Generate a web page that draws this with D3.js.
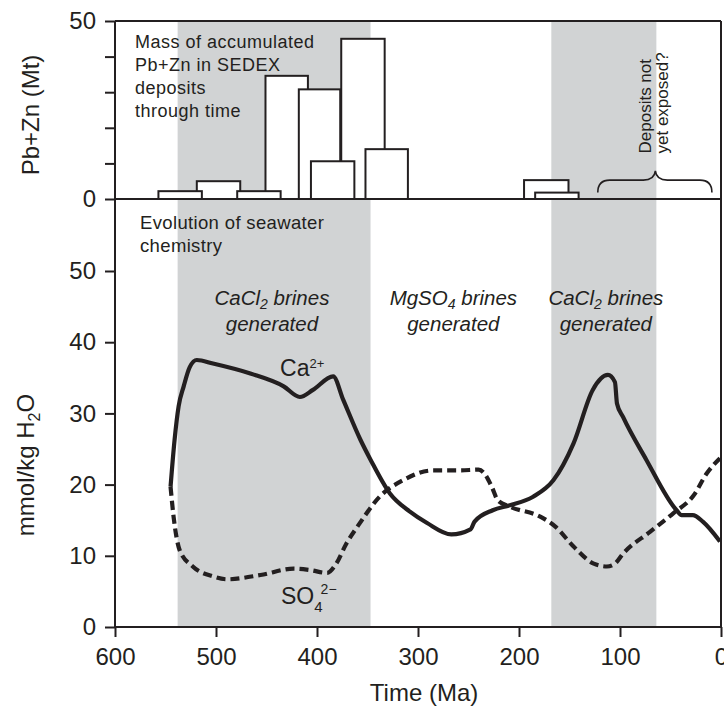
<!DOCTYPE html>
<html>
<head>
<meta charset="utf-8">
<script src="https://cdn.jsdelivr.net/npm/d3@7"></script>
<style>
  html, body { margin: 0; padding: 0; background: #fff; }
  svg text { font-family: "Liberation Sans", Arial, Helvetica, sans-serif; fill: #231f20; }
</style>
</head>
<body>
<svg id="chart" width="724" height="709"></svg>
<script>
// Time axis ticks (Ma) and value ticks
const timeTicks = [600, 500, 400, 300, 200, 100, 0];
const massTicks = [0, 10, 20, 30, 40, 50];
const massTickLabels = ["0", "", "", "", "", "50"];
const chemTicks = [0, 10, 20, 30, 40, 50];

// Intervals when CaCl2 brines formed (Ma)
const bandStart = [538, 168];
const bandEnd = [347, 64];

// SEDEX Pb+Zn histogram: age interval (Ma) and accumulated mass (Mt)
const barStart = [557, 519, 479, 451, 418, 406, 376, 352, 195, 184];
const barEnd   = [514, 476, 436, 409, 377, 363, 333, 310, 151, 141];
const barMass  = [2.2, 5.0, 2.2, 34.6, 30.8, 10.6, 45.0, 14.0, 5.3, 1.8];

// Seawater Ca2+ (mmol/kg H2O) through time
const caAge = [545, 541, 537, 532, 526, 519, 503, 466, 433, 417, 404, 384, 374, 357, 347, 328, 308, 291, 267, 248, 244, 226, 209, 186, 166, 146, 127, 112, 105, 103, 97, 74, 44, 39, 28, 18, 1];
const caConc = [19.7, 26.3, 31.0, 33.8, 36.5, 37.5, 37.0, 35.6, 33.8, 32.3, 33.3, 35.2, 31.9, 26.3, 23.5, 18.8, 16.2, 14.6, 13.0, 13.7, 14.8, 16.4, 17.1, 18.3, 20.6, 25.8, 33.3, 35.4, 34.4, 31.4, 29.5, 23.5, 16.4, 15.7, 15.7, 14.8, 12.0];

// Seawater SO4 2- (mmol/kg H2O) through time
const so4Age = [545, 542, 536, 523, 503, 489, 456, 423, 407, 390, 381, 371, 359, 338, 315, 285, 258, 240, 234, 227, 221, 209, 179, 164, 146, 126, 113, 105, 97, 70, 47, 27, 14, 1];
const so4Conc = [19.7, 15.5, 10.8, 8.5, 7.1, 6.7, 7.3, 8.2, 8.0, 7.6, 8.9, 11.7, 14.3, 18.3, 20.6, 22.0, 22.0, 22.1, 21.5, 19.7, 17.8, 16.9, 15.5, 14.1, 11.3, 8.9, 8.5, 8.9, 10.3, 13.4, 16.0, 18.5, 21.6, 23.7];

const ink = "#231f20";
const bandFill = "#d1d3d4";

const svg = d3.select("#chart");

const x = d3.scaleLinear().domain([600, 0]).range([115, 721]);
const yTop = d3.scaleLinear().domain([0, 50]).range([199, 21]);
const yBot = d3.scaleLinear().domain([0, 50]).range([627, 271]);

// Shaded intervals spanning both panels
svg.append("g").selectAll("rect")
  .data(bandStart.map((s, i) => ({ s, e: bandEnd[i] })))
  .join("rect")
  .attr("x", d => x(d.s))
  .attr("width", d => x(d.e) - x(d.s))
  .attr("y", yTop(50))
  .attr("height", yBot(0) - yTop(50))
  .attr("fill", bandFill);

// Histogram bars: taller ones first so shorter ones sit on top
const bars = barStart.map((s, i) => ({ s, e: barEnd[i], m: barMass[i] }))
  .sort((a, b) => b.m - a.m);
svg.append("g").selectAll("rect")
  .data(bars)
  .join("rect")
  .attr("x", d => x(d.s))
  .attr("width", d => x(d.e) - x(d.s))
  .attr("y", d => yTop(d.m))
  .attr("height", d => yTop(0) - yTop(d.m))
  .attr("fill", "#fff")
  .attr("stroke", ink)
  .attr("stroke-width", 2);

// Concentration curves
const line = d3.line()
  .x(d => x(d[0]))
  .y(d => yBot(d[1]))
  .curve(d3.curveMonotoneX);

svg.append("path")
  .datum(so4Age.map((a, i) => [a, so4Conc[i]]))
  .attr("d", line)
  .attr("fill", "none")
  .attr("stroke", ink)
  .attr("stroke-width", 4.2)
  .attr("stroke-dasharray", "9,5");

svg.append("path")
  .datum(caAge.map((a, i) => [a, caConc[i]]))
  .attr("d", line)
  .attr("fill", "none")
  .attr("stroke", ink)
  .attr("stroke-width", 4.2)
  .attr("stroke-linejoin", "round");

// Frame and panel divider
const frame = svg.append("g").attr("stroke", ink).attr("stroke-width", 2).attr("fill", "none");
frame.append("line").attr("x1", x(600)).attr("x2", x(600)).attr("y1", yTop(50)).attr("y2", yBot(0));
frame.append("line").attr("x1", x(0)).attr("x2", x(0)).attr("y1", yTop(50)).attr("y2", yBot(0));
frame.append("line").attr("x1", x(600)).attr("x2", x(0)).attr("y1", yTop(50)).attr("y2", yTop(50));
frame.append("line").attr("x1", x(600)).attr("x2", x(0)).attr("y1", yTop(0)).attr("y2", yTop(0));
frame.append("line").attr("x1", x(600)).attr("x2", x(0)).attr("y1", yBot(0)).attr("y2", yBot(0));

function styleAxis(g) {
  g.select(".domain").remove();
  g.selectAll(".tick line").attr("stroke", ink).attr("stroke-width", 2);
  g.selectAll(".tick text").attr("font-size", 24).attr("fill", ink)
    .attr("font-family", "'Liberation Sans', Arial, sans-serif");
}

svg.append("g").attr("transform", `translate(${x(600)},0)`)
  .call(d3.axisLeft(yTop).tickValues(massTicks).tickSize(10).tickPadding(9)
    .tickFormat((d, i) => massTickLabels[i]))
  .call(styleAxis);

svg.append("g").attr("transform", `translate(${x(600)},0)`)
  .call(d3.axisLeft(yBot).tickValues(chemTicks).tickSize(10).tickPadding(9))
  .call(styleAxis);

svg.append("g").attr("transform", `translate(0,${yBot(0)})`)
  .call(d3.axisBottom(x).tickValues(timeTicks).tickSize(10).tickPadding(11))
  .call(styleAxis);

// Axis titles
svg.append("text")
  .attr("transform", `translate(38.5,${(yTop(50) + yTop(0)) / 2 + 5}) rotate(-90)`)
  .attr("text-anchor", "middle").attr("font-size", 24)
  .text("Pb+Zn (Mt)");

const chemTitle = svg.append("text")
  .attr("transform", "translate(33.5,465) rotate(-90)")
  .attr("text-anchor", "middle").attr("font-size", 24);
chemTitle.append("tspan").text("mmol/kg H");
chemTitle.append("tspan").attr("font-size", 16).attr("dy", 6).text("2");
chemTitle.append("tspan").attr("dy", -6).text("O");

svg.append("text")
  .attr("x", 424).attr("y", 701)
  .attr("text-anchor", "middle").attr("font-size", 24)
  .text("Time (Ma)");

// Panel captions
const massNote = ["Mass of accumulated", "Pb+Zn in SEDEX", "deposits", "through time"];
svg.append("g").selectAll("text")
  .data(massNote)
  .join("text")
  .attr("x", 135)
  .attr("y", (d, i) => 48.3 + i * 22.8)
  .attr("font-size", 18)
  .attr("letter-spacing", 0.5)
  .text(d => d);

const chemNote = ["Evolution of seawater", "chemistry"];
svg.append("g").selectAll("text")
  .data(chemNote)
  .join("text")
  .attr("x", 140)
  .attr("y", (d, i) => 229.3 + i * 22.4)
  .attr("font-size", 18.5)
  .attr("letter-spacing", 0.35)
  .text(d => d);

// Brine labels (italic, two lines, with chemical subscripts)
function brineLabel(age, formula, sub) {
  const cx = x(age);
  const t = svg.append("text")
    .attr("x", cx).attr("y", yBot(45.2))
    .attr("text-anchor", "middle")
    .attr("font-size", 20.5).attr("font-style", "italic");
  t.append("tspan").text(formula);
  t.append("tspan").attr("font-size", 14).attr("dy", 4).text(sub);
  t.append("tspan").attr("dy", -4).text(" brines");
  t.append("tspan").attr("x", cx).attr("dy", yBot(41.7) - yBot(45.2) + 1).text("generated");
}
brineLabel(444.6, "CaCl", "2");
brineLabel(265, "MgSO", "4");
brineLabel(114, "CaCl", "2");

// Ion labels
const caLabel = svg.append("text")
  .attr("x", x(436.6)).attr("y", yBot(35.2))
  .attr("font-size", 23);
caLabel.append("tspan").text("Ca");
caLabel.append("tspan").attr("font-size", 13).attr("dy", -8).text("2+");

const soLabel = svg.append("text")
  .attr("x", x(435.6)).attr("y", yBot(3.3))
  .attr("font-size", 23);
soLabel.append("tspan").text("SO");
soLabel.append("tspan").attr("font-size", 15).attr("dy", 8).text("4");
soLabel.append("tspan").attr("font-size", 14).attr("dx", -2).attr("dy", -18).text("2\u2212");

// Curly brace over the unexposed interval
const bl = x(122), br = x(9), bm = x(65);
const yEnd = yTop(1.8), yFlat = yTop(5.3), yTip = yTop(7.9);
const brace = d3.path();
brace.moveTo(bl, yEnd);
brace.quadraticCurveTo(bl, yFlat, bl + 12, yFlat);
brace.lineTo(bm - 12, yFlat);
brace.quadraticCurveTo(bm - 1, yFlat, bm, yTip);
brace.quadraticCurveTo(bm + 1, yFlat, bm + 12, yFlat);
brace.lineTo(br - 12, yFlat);
brace.quadraticCurveTo(br, yFlat, br, yEnd);
svg.append("path")
  .attr("d", brace.toString())
  .attr("fill", "none")
  .attr("stroke", ink)
  .attr("stroke-width", 1.6);

const braceNote = ["Deposits not", "yet exposed?"];
svg.append("g").selectAll("text")
  .data(braceNote)
  .join("text")
  .attr("transform", (d, i) => `translate(${650.7 + i * 17.5},153.5) rotate(-90)`)
  .attr("font-size", 17)
  .text(d => d);
</script>
</body>
</html>
